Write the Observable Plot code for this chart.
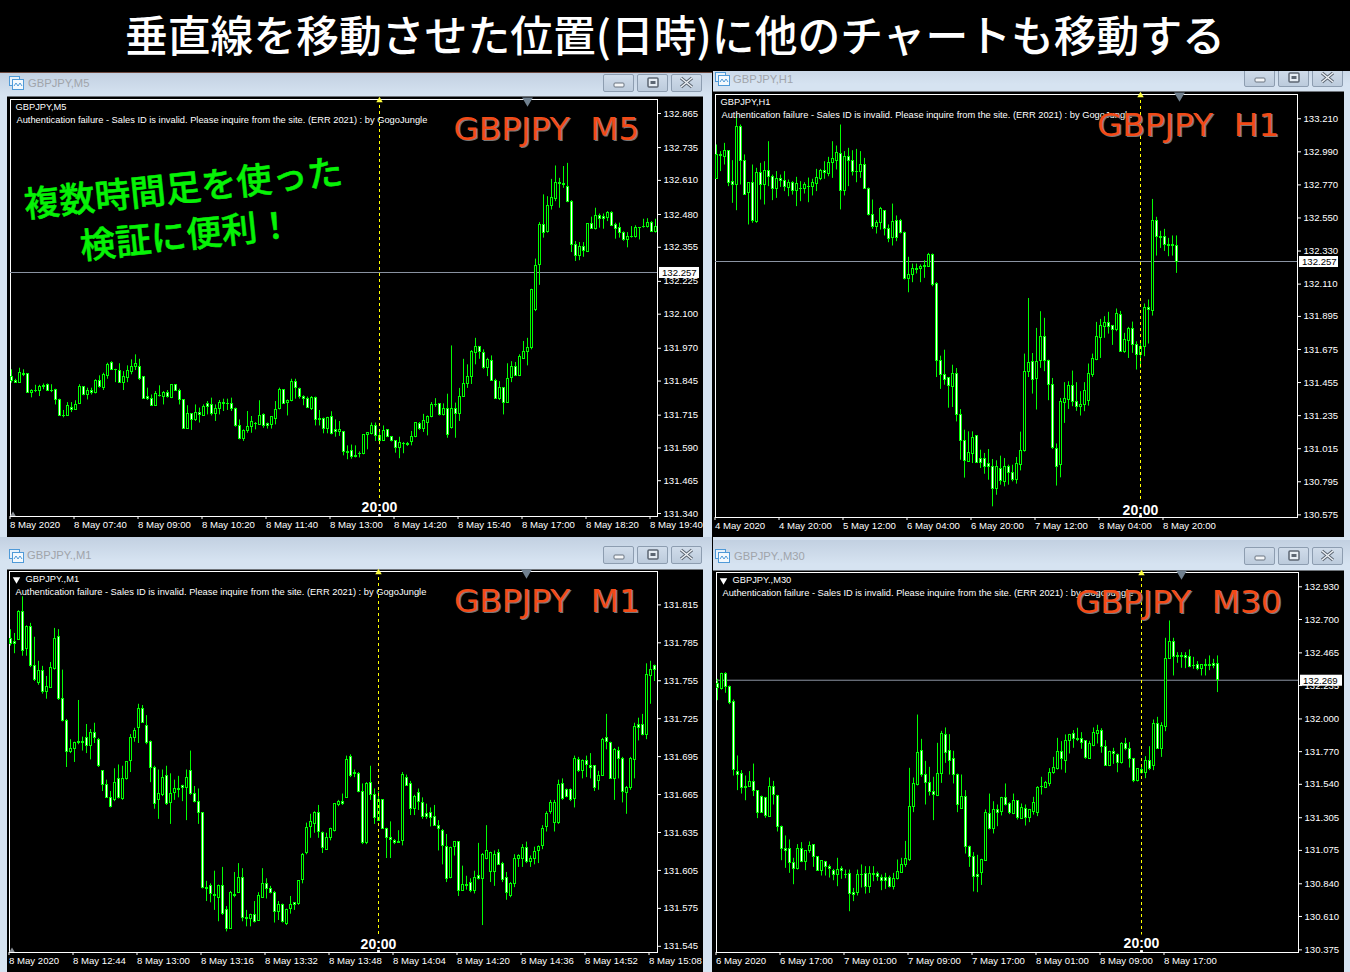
<!DOCTYPE html>
<html lang="ja"><head><meta charset="utf-8">
<style>
html,body{margin:0;padding:0;background:#000;overflow:hidden}
#page{position:absolute;left:0;top:0;width:1350px;height:972px;background:#000;overflow:hidden}
.win{position:absolute;background:linear-gradient(#c2d0e1 0,#d6e3f1 24px,#d6e3f1 100%)}
.client{position:absolute;background:#000;border-top:1px solid #6f747a;box-sizing:border-box}
.cap{position:absolute;font:11.2px "Liberation Sans";color:#a0a4aa;line-height:14px;white-space:pre}
.icon{position:absolute;width:15px;height:14px}
.btn{position:absolute;width:31px;height:18px;box-sizing:border-box;border:1px solid #8d9db0;border-radius:2px;background:linear-gradient(#d0dcea,#bccbdc)}
.btn svg{position:absolute;left:0;top:0}
#title{position:absolute;left:0;top:0;width:1350px;height:71px;background:#000;color:#fff;text-align:center;font:500 42.8px/67px "Noto Sans CJK JP";white-space:pre}
</style>
<script src="https://cdn.jsdelivr.net/npm/d3@7"></script>
<script src="https://cdn.jsdelivr.net/npm/@observablehq/plot@0.6"></script>
</head><body><div id="page"></div>
<script>
// [open, high, low, close]
const m5Candles = [
[131.860,131.886,131.835,131.845],[131.845,131.850,131.837,131.837],[131.837,131.892,131.837,131.873],[131.869,131.886,131.860,131.867],
[131.869,131.869,131.797,131.799],[131.799,131.810,131.779,131.807],[131.807,131.827,131.799,131.804],[131.807,131.827,131.784,131.822],
[131.826,131.832,131.810,131.820],[131.827,131.832,131.803,131.807],[131.807,131.829,131.799,131.805],[131.810,131.812,131.752,131.769],
[131.771,131.774,131.708,131.710],[131.710,131.731,131.703,131.708],[131.710,131.761,131.708,131.749],[131.742,131.761,131.723,131.731],
[131.731,131.768,131.731,131.751],[131.754,131.829,131.754,131.820],[131.820,131.822,131.787,131.789],[131.789,131.816,131.771,131.804],
[131.804,131.816,131.790,131.797],[131.797,131.848,131.794,131.845],[131.843,131.863,131.816,131.820],[131.816,131.873,131.807,131.867],
[131.863,131.911,131.850,131.903],[131.911,131.917,131.883,131.886],[131.886,131.888,131.837,131.884],[131.883,131.909,131.837,131.837],
[131.837,131.879,131.807,131.858],[131.853,131.901,131.837,131.881],[131.879,131.924,131.867,131.896],[131.896,131.943,131.883,131.909],
[131.898,131.926,131.845,131.850],[131.858,131.860,131.774,131.776],[131.782,131.816,131.769,131.776],[131.776,131.790,131.746,131.749],
[131.749,131.803,131.746,131.793],[131.788,131.825,131.782,131.786],[131.782,131.803,131.752,131.799],[131.799,131.807,131.778,131.782],
[131.779,131.829,131.776,131.827],[131.827,131.829,131.803,131.807],[131.807,131.812,131.752,131.769],[131.769,131.771,131.660,131.662],
[131.662,131.749,131.660,131.718],[131.716,131.718,131.655,131.693],[131.693,131.752,131.689,131.723],[131.723,131.740,131.683,131.713],
[131.710,131.752,131.708,131.743],[131.756,131.765,131.714,131.743],[131.751,131.778,131.710,131.716],[131.716,131.752,131.689,131.736],
[131.736,131.769,131.714,131.759],[131.759,131.774,131.727,131.757],[131.757,131.774,131.731,131.755],[131.756,131.778,131.727,131.736],
[131.737,131.740,131.667,131.670],[131.670,131.695,131.619,131.622],[131.622,131.657,131.613,131.652],[131.652,131.727,131.644,131.667],
[131.667,131.708,131.644,131.688],[131.681,131.685,131.657,131.679],[131.677,131.768,131.675,131.710],[131.713,131.718,131.663,131.670],
[131.679,131.683,131.660,131.670],[131.675,131.705,131.660,131.705],[131.700,131.765,131.676,131.733],[131.736,131.816,131.733,131.810],
[131.810,131.810,131.754,131.756],[131.759,131.771,131.710,131.768],[131.766,131.850,131.764,131.840],[131.841,131.850,131.774,131.815],
[131.812,131.816,131.774,131.782],[131.782,131.787,131.749,131.774],[131.774,131.782,131.738,131.742],[131.738,131.784,131.731,131.779],
[131.779,131.782,131.672,131.693],[131.698,131.731,131.672,131.693],[131.698,131.702,131.642,131.662],[131.662,131.705,131.642,131.703],
[131.705,131.726,131.638,131.642],[131.655,131.695,131.629,131.647],[131.647,131.689,131.632,131.657],[131.647,131.651,131.558,131.571],
[131.571,131.596,131.543,131.569],[131.575,131.599,131.545,131.553],[131.553,131.596,131.550,131.559],[131.566,131.573,131.550,131.564],
[131.564,131.638,131.562,131.638],[131.636,131.644,131.581,131.644],[131.641,131.683,131.638,131.672],[131.672,131.683,131.613,131.632],
[131.632,131.657,131.600,131.616],[131.614,131.672,131.613,131.651],[131.655,131.657,131.627,131.629],[131.629,131.632,131.611,131.614],
[131.613,131.615,131.568,131.586],[131.586,131.629,131.547,131.606],[131.605,131.609,131.566,131.603],[131.605,131.609,131.594,131.600],
[131.609,131.651,131.596,131.629],[131.629,131.683,131.627,131.683],[131.679,131.685,131.655,131.660],[131.662,131.716,131.647,131.689],
[131.685,131.710,131.634,131.705],[131.705,131.761,131.703,131.752],[131.752,131.776,131.743,131.750],[131.755,131.756,131.710,131.713],
[131.713,131.756,131.710,131.736],[131.736,131.793,131.625,131.638],[131.663,131.977,131.660,131.736],[131.736,131.759,131.625,131.716],
[131.716,131.815,131.689,131.784],[131.784,131.926,131.784,131.832],[131.832,131.905,131.815,131.858],[131.860,131.959,131.830,131.952],
[131.949,132.006,131.905,131.972],[131.972,131.975,131.926,131.952],[131.949,131.962,131.888,131.891],[131.893,131.930,131.860,131.924],
[131.920,131.939,131.843,131.845],[131.845,131.850,131.774,131.776],[131.774,131.841,131.769,131.816],[131.816,131.818,131.714,131.761],
[131.761,131.909,131.759,131.850],[131.853,131.917,131.837,131.896],[131.896,131.914,131.860,131.863],[131.863,131.943,131.860,131.934],
[131.929,131.994,131.926,131.952],[131.952,132.006,131.901,131.968],[131.970,132.193,131.962,132.191],[132.114,132.308,132.108,132.282],
[132.285,132.447,132.208,132.437],[132.437,132.553,132.388,132.407],[132.413,132.546,132.407,132.511],[132.511,132.612,132.495,132.540],
[132.536,132.663,132.527,132.597],[132.597,132.616,132.502,132.595],[132.595,132.661,132.578,132.591],[132.584,132.673,132.523,132.527],
[132.527,132.531,132.333,132.361],[132.361,132.375,132.299,132.318],[132.320,132.371,132.302,132.353],[132.353,132.371,132.315,132.338],
[132.337,132.442,132.333,132.441],[132.441,132.468,132.422,132.424],[132.424,132.502,132.419,132.473],[132.473,132.480,132.426,132.460],
[132.469,132.480,132.422,132.460],[132.465,132.489,132.451,132.483],[132.485,132.489,132.432,132.436],[132.437,132.445,132.384,132.424],
[132.426,132.445,132.388,132.409],[132.409,132.412,132.376,132.379],[132.379,132.409,132.351,132.394],[132.394,132.432,132.388,132.392],
[132.391,132.435,132.388,132.428],[132.428,132.428,132.381,132.426],[132.432,132.460,132.426,132.430],[132.432,132.462,132.426,132.445],
[132.445,132.451,132.410,132.413],[132.413,132.460,132.407,132.429]];
const h1Candles = [
[132.808,133.032,132.808,132.963],[132.963,132.988,132.855,132.959],[132.954,133.043,132.899,132.990],[132.990,132.994,132.755,132.781],
[132.788,132.928,132.644,132.768],[132.764,133.232,132.595,133.150],[133.150,133.165,132.766,132.928],[132.928,132.966,132.697,132.702],
[132.710,132.781,132.500,132.777],[132.777,132.899,132.511,132.529],[132.520,132.877,132.511,132.844],[132.844,132.910,132.666,132.764],
[132.764,132.921,132.633,132.857],[132.857,133.054,132.755,132.817],[132.817,132.832,132.662,132.741],[132.741,132.855,132.677,132.804],
[132.804,132.832,132.750,132.790],[132.795,132.855,132.722,132.750],[132.746,132.799,132.688,132.781],[132.781,132.788,132.699,132.724],
[132.724,132.817,132.622,132.773],[132.741,132.788,132.655,132.738],[132.737,132.781,132.706,132.764],[132.755,132.812,132.648,132.752],
[132.755,132.804,132.693,132.777],[132.773,132.870,132.722,132.810],[132.804,132.870,132.795,132.857],[132.857,132.921,132.804,132.844],
[132.839,132.950,132.821,132.914],[132.914,133.054,132.810,132.937],[132.928,133.025,132.866,132.977],[132.970,133.165,132.600,132.728],
[132.728,132.988,132.693,132.950],[132.950,133.010,132.755,132.928],[132.928,132.994,132.826,132.852],[132.855,133.003,132.781,132.852],
[132.855,132.988,132.810,132.897],[132.897,132.943,132.737,132.741],[132.741,132.746,132.560,132.568],[132.568,132.666,132.471,132.489],
[132.489,132.529,132.440,132.511],[132.511,132.617,132.466,132.604],[132.591,132.595,132.427,132.475],[132.471,132.500,132.382,132.409],
[132.413,132.639,132.360,132.520],[132.524,132.560,132.389,132.413],[132.524,132.537,132.440,132.444],[132.449,132.453,132.134,132.138],
[132.138,132.285,132.049,132.165],[132.165,132.240,132.116,132.205],[132.205,132.240,132.174,132.203],[132.205,132.234,132.116,132.218],
[132.218,132.262,132.145,132.227],[132.222,132.311,132.218,132.302],[132.302,132.307,132.089,132.103],[132.107,132.116,131.485,131.592],
[131.592,131.627,131.406,131.503],[131.503,131.667,131.434,131.472],[131.481,131.485,131.281,131.428],[131.423,131.567,131.286,131.508],
[131.508,131.545,131.190,131.233],[131.233,131.272,130.935,131.060],[131.064,131.135,130.816,130.931],[130.922,131.124,130.922,130.980],
[130.975,131.124,130.913,131.086],[131.095,131.095,130.913,130.918],[130.946,131.002,130.880,130.918],[130.946,130.980,130.842,130.891],
[130.913,131.006,130.802,130.891],[130.887,130.940,130.625,130.745],[130.745,130.931,130.702,130.887],[130.878,130.962,130.769,130.798],
[130.793,130.946,130.758,130.891],[130.891,130.902,130.769,130.847],[130.847,130.902,130.791,130.802],[130.802,130.953,130.776,130.907],
[130.904,131.122,130.864,130.997],[130.997,131.641,130.989,131.525],[131.525,132.011,131.485,131.583],[131.587,131.645,131.375,131.472],
[131.477,131.812,131.269,131.590],[131.597,131.923,131.546,131.752],[131.757,131.879,131.524,131.597],[131.597,131.601,131.331,131.437],
[131.437,131.479,131.007,131.014],[131.007,131.043,130.763,130.892],[130.901,131.346,130.818,131.322],[131.313,131.451,131.180,131.340],
[131.335,131.457,131.273,131.428],[131.428,131.528,131.291,131.322],[131.322,131.451,131.260,131.286],[131.286,131.391,131.229,131.302],
[131.300,131.451,131.258,131.393],[131.331,131.575,131.295,131.506],[131.499,131.641,131.486,131.606],[131.601,131.852,131.597,131.752],
[131.748,131.872,131.612,131.828],[131.823,131.890,131.746,131.845],[131.845,131.919,131.774,131.823],[131.828,131.832,131.699,131.801],
[131.801,131.941,131.790,131.905],[131.899,131.925,131.655,131.657],[131.655,131.779,131.646,131.735],[131.730,131.819,131.612,131.808],
[131.808,131.854,131.646,131.699],[131.703,131.723,131.535,131.632],[131.632,131.723,131.546,131.686],[131.686,131.974,131.624,131.945],
[131.945,132.001,131.708,131.932],[131.930,132.670,131.894,132.524],[132.524,132.551,132.293,132.422],[132.422,132.458,132.344,132.415],
[132.418,132.471,132.324,132.364],[132.364,132.411,132.289,132.362],[132.362,132.427,132.293,132.364],[132.360,132.427,132.178,132.257]];
const m1Candles = [
[131.788,131.795,131.782,131.784],[131.785,131.792,131.776,131.784],[131.787,131.810,131.787,131.809],[131.809,131.821,131.774,131.778],
[131.780,131.798,131.774,131.797],[131.797,131.800,131.765,131.766],[131.766,131.789,131.754,131.755],[131.753,131.770,131.751,131.762],
[131.762,131.766,131.744,131.746],[131.746,131.758,131.740,131.750],[131.749,131.769,131.749,131.765],[131.764,131.796,131.763,131.788],
[131.789,131.795,131.739,131.740],[131.740,131.763,131.722,131.723],[131.723,131.724,131.686,131.698],[131.698,131.708,131.697,131.701],
[131.701,131.706,131.690,131.705],[131.706,131.739,131.704,131.705],[131.706,131.710,131.699,131.705],[131.709,131.720,131.697,131.703],
[131.703,131.716,131.692,131.713],[131.713,131.721,131.705,131.709],[131.708,131.709,131.686,131.687],[131.683,131.683,131.667,131.672],
[131.672,131.676,131.662,131.662],[131.662,131.667,131.654,131.655],[131.660,131.685,131.659,131.674],[131.677,131.688,131.661,131.662],
[131.661,131.687,131.660,131.677],[131.677,131.690,131.676,131.690],[131.691,131.712,131.682,131.709],[131.709,131.717,131.706,131.715],
[131.717,131.736,131.705,131.732],[131.732,131.735,131.721,131.721],[131.719,131.727,131.704,131.705],[131.706,131.707,131.674,131.686],
[131.686,131.687,131.653,131.657],[131.660,131.684,131.645,131.665],[131.664,131.684,131.663,131.678],[131.679,131.687,131.656,131.657],
[131.658,131.681,131.641,131.665],[131.666,131.676,131.660,131.669],[131.669,131.679,131.662,131.668],[131.671,131.672,131.659,131.670],
[131.670,131.684,131.644,131.678],[131.683,131.699,131.664,131.665],[131.665,131.671,131.658,131.659],[131.659,131.669,131.641,131.650],
[131.650,131.650,131.590,131.591],[131.591,131.596,131.580,131.590],[131.592,131.594,131.579,131.586],[131.585,131.604,131.573,131.584],
[131.583,131.593,131.564,131.592],[131.592,131.607,131.569,131.570],[131.573,131.576,131.556,131.558],[131.558,131.588,131.558,131.587],
[131.585,131.603,131.583,131.584],[131.587,131.610,131.587,131.599],[131.599,131.606,131.564,131.567],[131.567,131.573,131.560,131.566],
[131.566,131.570,131.560,131.569],[131.569,131.580,131.563,131.564],[131.565,131.587,131.565,131.584],[131.583,131.606,131.583,131.594],
[131.594,131.598,131.582,131.590],[131.590,131.592,131.586,131.587],[131.587,131.588,131.563,131.572],[131.572,131.580,131.565,131.577],
[131.577,131.578,131.563,131.564],[131.562,131.574,131.561,131.573],[131.574,131.584,131.570,131.577],[131.579,131.579,131.573,131.577],
[131.578,131.596,131.577,131.596],[131.597,131.618,131.594,131.617],[131.618,131.642,131.617,131.638],[131.639,131.649,131.630,131.643],
[131.641,131.651,131.634,131.650],[131.650,131.656,131.630,131.635],[131.634,131.635,131.618,131.622],[131.621,131.634,131.621,131.630],
[131.630,131.638,131.628,131.637],[131.636,131.657,131.635,131.657],[131.656,131.660,131.655,131.659],[131.659,131.665,131.656,131.657],
[131.662,131.695,131.662,131.692],[131.694,131.696,131.678,131.679],[131.682,131.684,131.678,131.681],[131.681,131.682,131.666,131.667],
[131.667,131.673,131.625,131.626],[131.626,131.674,131.625,131.673],[131.674,131.687,131.660,131.664],[131.664,131.669,131.641,131.646],
[131.644,131.667,131.644,131.660],[131.660,131.660,131.637,131.637],[131.637,131.638,131.614,131.630],[131.630,131.643,131.614,131.629],
[131.628,131.629,131.625,131.626],[131.627,131.636,131.626,131.626],[131.628,131.682,131.624,131.680],[131.678,131.680,131.671,131.671],
[131.673,131.675,131.648,131.653],[131.653,131.664,131.648,131.663],[131.666,131.669,131.652,131.659],[131.658,131.662,131.645,131.647],
[131.649,131.657,131.645,131.647],[131.650,131.654,131.639,131.646],[131.647,131.656,131.640,131.640],[131.640,131.644,131.620,131.637],
[131.636,131.637,131.609,131.624],[131.623,131.633,131.595,131.598],[131.599,131.623,131.598,131.622],[131.623,131.627,131.616,131.627],
[131.627,131.627,131.584,131.588],[131.588,131.608,131.588,131.593],[131.593,131.600,131.589,131.592],[131.595,131.598,131.587,131.588],
[131.588,131.604,131.586,131.599],[131.600,131.626,131.597,131.598],[131.598,131.618,131.561,131.617],[131.614,131.640,131.613,131.620],
[131.603,131.619,131.595,131.618],[131.603,131.620,131.592,131.617],[131.618,131.621,131.609,131.609],[131.610,131.611,131.595,131.597],
[131.599,131.603,131.581,131.587],[131.584,131.595,131.583,131.594],[131.594,131.617,131.591,131.614],[131.614,131.617,131.607,131.616],
[131.614,131.625,131.607,131.622],[131.622,131.627,131.610,131.611],[131.611,131.616,131.607,131.614],[131.614,131.623,131.609,131.619],
[131.620,131.624,131.610,131.623],[131.624,131.640,131.621,131.637],[131.639,131.651,131.635,131.649],[131.651,131.660,131.649,131.658],
[131.642,131.660,131.635,131.658],[131.642,131.676,131.641,131.672],[131.673,131.677,131.660,131.661],[131.668,131.669,131.662,131.663],
[131.668,131.669,131.659,131.660],[131.661,131.695,131.654,131.693],[131.692,131.694,131.682,131.683],[131.683,131.692,131.677,131.691],
[131.691,131.695,131.678,131.688],[131.687,131.697,131.677,131.686],[131.687,131.687,131.667,131.670],[131.675,131.683,131.668,131.679],
[131.679,131.709,131.679,131.708],[131.709,131.728,131.700,131.706],[131.705,131.706,131.677,131.677],[131.677,131.701,131.660,131.700],
[131.699,131.702,131.677,131.693],[131.693,131.694,131.658,131.667],[131.666,131.671,131.649,131.670],[131.670,131.694,131.668,131.693],
[131.692,131.721,131.677,131.718],[131.720,131.725,131.707,131.717],[131.720,131.728,131.711,131.712],[131.712,131.768,131.708,131.759],
[131.758,131.770,131.736,131.763],[131.766,131.767,131.754,131.763]];
const m30Candles = [
[132.243,132.275,132.125,132.214],[132.205,132.318,132.200,132.313],[132.313,132.322,132.177,132.219],[132.219,132.228,132.097,132.111],
[132.116,132.130,131.595,131.637],[131.626,131.736,131.492,131.600],[131.607,131.633,131.468,131.508],[131.515,131.595,131.421,131.510],
[131.520,131.626,131.515,131.550],[131.555,131.679,131.450,131.487],[131.487,131.492,131.295,131.337],[131.445,131.454,131.332,131.337],
[131.438,131.445,131.297,131.314],[131.309,131.581,131.304,131.515],[131.515,131.557,131.391,131.459],[131.454,131.459,131.201,131.238],
[131.238,131.243,130.999,131.079],[131.084,131.173,130.945,131.070],[131.079,131.145,130.910,130.980],[130.980,131.016,130.830,130.943],
[130.938,131.112,130.933,131.079],[131.079,131.126,130.985,130.992],[130.992,131.070,130.929,131.065],[131.065,131.131,131.051,131.102],
[131.107,131.112,130.952,131.023],[131.023,131.027,130.924,130.929],[130.929,130.999,130.891,130.994],[130.990,130.994,130.891,130.957],
[130.957,130.969,130.877,130.943],[130.929,130.938,130.858,130.896],[130.896,131.016,130.816,130.933],[130.938,130.957,130.868,130.924],
[130.901,130.933,130.872,130.898],[130.903,130.933,130.640,130.762],[130.769,130.804,130.711,130.760],[130.769,130.933,130.751,130.896],
[130.901,130.969,130.807,130.898],[130.903,130.957,130.764,130.811],[130.811,130.957,130.769,130.903],[130.903,130.957,130.851,130.900],
[130.903,130.919,130.854,130.882],[130.875,130.898,130.788,130.858],[130.875,130.910,130.797,130.858],[130.875,130.891,130.807,130.816],
[130.816,130.910,130.793,130.872],[130.868,131.004,130.863,130.919],[130.915,131.016,130.910,130.966],[130.966,131.135,130.952,131.009],
[131.004,131.649,130.994,131.375],[131.375,131.581,131.337,131.539],[131.534,132.024,131.525,131.755],[131.769,131.853,131.586,131.600],
[131.600,131.698,131.391,131.548],[131.548,131.656,131.454,131.485],[131.485,131.586,131.281,131.459],[131.454,131.825,131.450,131.609],
[131.609,131.909,131.543,131.891],[131.881,131.933,131.684,131.759],[131.769,131.886,131.602,131.698],[131.712,131.769,131.539,131.604],
[131.604,131.609,131.337,131.389],[131.365,131.602,131.360,131.450],[131.450,131.492,131.046,131.098],[131.098,131.102,130.952,131.023],
[131.023,131.056,130.779,130.882],[130.901,131.037,130.774,130.882],[130.910,131.009,130.825,131.004],[130.999,131.356,130.994,131.332],
[131.328,131.468,131.215,131.220],[131.220,131.414,131.187,131.356],[131.356,131.391,131.238,131.337],[131.344,131.445,131.314,131.438],
[131.438,131.539,131.384,131.393],[131.398,131.407,131.323,131.332],[131.328,131.468,131.323,131.417],[131.417,131.421,131.285,131.297],
[131.295,131.398,131.290,131.370],[131.360,131.391,131.243,131.299],[131.299,131.360,131.267,131.356],[131.342,131.445,131.320,131.403],
[131.337,131.520,131.309,131.508],[131.518,131.586,131.461,131.520],[131.511,131.557,131.506,131.543],[131.539,131.647,131.520,131.614],
[131.614,131.726,131.607,131.649],[131.647,131.860,131.637,131.762],[131.762,131.837,131.637,131.712],[131.703,131.884,131.614,131.839],
[131.839,131.888,131.750,131.881],[131.888,131.914,131.790,131.858],[131.853,131.931,131.837,131.851],[131.853,131.900,131.783,131.830],
[131.839,131.844,131.712,131.722],[131.717,131.839,131.712,131.820],[131.806,131.933,131.801,131.895],[131.891,131.952,131.820,131.914],
[131.909,131.928,131.755,131.797],[131.797,131.844,131.663,131.668],[131.665,131.769,131.661,131.764],[131.762,131.790,131.677,131.750],
[131.745,131.750,131.618,131.689],[131.689,131.830,131.679,131.820],[131.820,131.860,131.773,131.783],[131.783,131.830,131.651,131.712],
[131.712,131.719,131.548,131.562],[131.562,131.647,131.553,131.642],[131.640,131.672,131.609,131.614],[131.614,131.731,131.576,131.698],
[131.698,131.801,131.633,131.647],[131.665,131.989,131.633,131.961],[131.961,132.008,131.783,131.787],[131.787,131.970,131.726,131.947],
[131.938,132.564,131.907,132.416],[132.421,132.686,132.416,132.536],[132.536,132.564,132.299,132.435],[132.437,132.463,132.388,132.435],
[132.437,132.463,132.353,132.435],[132.437,132.463,132.350,132.428],[132.433,132.482,132.357,132.364],[132.369,132.430,132.346,132.367],
[132.374,132.400,132.336,132.350],[132.350,132.379,132.299,132.374],[132.374,132.416,132.299,132.372],[132.374,132.440,132.336,132.372],
[132.381,132.416,132.350,132.372],[132.381,132.440,132.182,132.269]];

const m5YTicks = [132.865,132.735,132.610,132.480,132.355,132.225,132.100,131.970,131.845,131.715,131.590,131.465,131.340];
const h1YTicks = [133.210,132.990,132.770,132.550,132.330,132.110,131.895,131.675,131.455,131.235,131.015,130.795,130.575];
const m1YTicks = [131.815,131.785,131.755,131.725,131.695,131.665,131.635,131.605,131.575,131.545];
const m30YTicks = [132.930,132.700,132.465,132.235,132.000,131.770,131.540,131.305,131.075,130.840,130.610,130.375];

const m5XLabels = ["8 May 2020","8 May 07:40","8 May 09:00","8 May 10:20","8 May 11:40","8 May 13:00","8 May 14:20","8 May 15:40","8 May 17:00","8 May 18:20","8 May 19:40"];
const h1XLabels = ["4 May 2020","4 May 20:00","5 May 12:00","6 May 04:00","6 May 20:00","7 May 12:00","8 May 04:00","8 May 20:00"];
const m1XLabels = ["8 May 2020","8 May 12:44","8 May 13:00","8 May 13:16","8 May 13:32","8 May 13:48","8 May 14:04","8 May 14:20","8 May 14:36","8 May 14:52","8 May 15:08"];
const m30XLabels = ["6 May 2020","6 May 17:00","7 May 01:00","7 May 09:00","7 May 17:00","8 May 01:00","8 May 09:00","8 May 17:00"];

const authText = "Authentication failure - Sales ID is invalid. Please inquire from the site. (ERR 2021) : by GogoJungle";
const headline = "垂直線を移動させた位置(日時)に他のチャートも移動する";
const noteLines = ["複数時間足を使った","検証に便利！"];

const GREEN = "#00ff00", FONT = "Liberation Sans", TICK_SIZE = 9.6;
const page = document.getElementById("page");

function el(cls, css, text, parent = page) {
  const d = document.createElement("div");
  if (cls) d.className = cls;
  d.style.cssText = css;
  if (text) d.textContent = text;
  parent.appendChild(d);
  return d;
}
const glyphs = {
  min: '<svg width="29" height="16"><rect x="10" y="8" width="10" height="4" rx="1" fill="#f4f6f8" stroke="#6a7480"/></svg>',
  max: '<svg width="29" height="16"><rect x="10" y="3" width="10" height="9" rx="1" fill="#e6edf4" stroke="#5c6672" stroke-width="1.5"/><rect x="12.5" y="6" width="5" height="3" fill="#5c6672"/></svg>',
  close: '<svg width="29" height="16"><path d="M9 3L20 12M20 3L9 12" stroke="#5c6672" stroke-width="3.4"/><path d="M9 3L20 12M20 3L9 12" stroke="#eef2f6" stroke-width="1.4"/></svg>'
};
const iconSvg = '<svg width="15" height="14"><rect x="0.5" y="0.5" width="10" height="9" fill="#e8f2fb" stroke="#4f9ad8"/><rect x="3.5" y="3.5" width="11" height="10" fill="#f4f9fd" stroke="#4f9ad8"/><path d="M5 10l2-3 2 3 2-3 2 3" fill="none" stroke="#4f9ad8"/></svg>';
function chrome(w) {
  el("win", `left:${w.x}px;top:${w.y}px;width:${w.w}px;height:${w.h}px`);
  el("client", `left:${w.cx}px;top:${w.cy}px;width:${w.cw}px;height:${w.ch}px`);
  el("icon", `left:${w.ix}px;top:${w.iy}px`).innerHTML = iconSvg;
  el("cap", `left:${w.tx}px;top:${w.ty}px`, w.caption);
  [["min",0],["max",34],["close",68]].forEach(([g,dx]) => {
    el("btn", `left:${w.bx+dx}px;top:${w.by}px`).innerHTML = glyphs[g];
  });
}
chrome({x:0,y:72,w:712,h:465,cx:7,cy:96,cw:696,ch:441,ix:9,iy:76,tx:28,ty:76,caption:"GBPJPY,M5",bx:603,by:74});
chrome({x:713,y:60,w:637,h:480,cx:713,cy:91,cw:631,ch:446,ix:715,iy:72,tx:733,ty:72,caption:"GBPJPY,H1",bx:1244,by:69});
chrome({x:0,y:537,w:712,h:435,cx:7,cy:569,cw:696,ch:403,ix:9,iy:549,tx:27,ty:548,caption:"GBPJPY.,M1",bx:603,by:546});
chrome({x:713,y:540,w:637,h:432,cx:713,cy:570,cw:631,ch:402,ix:715,iy:549,tx:734,ty:549,caption:"GBPJPY.,M30",bx:1244,by:547});

function candleChart(p) {
  const rows = p.candles;
  const ix = (d) => rows.indexOf(d);
  const up = (d) => d[3] >= d[0];
  const bar = 0.25;
  const textStyle = {fontFamily: FONT, fontSize: 9.3, fill: "#fff", frameAnchor: "top-left", lineAnchor: "middle", textAnchor: "start"};
  const marks = [
    Plot.frame({stroke: "#fff"}),
    p.current != null ? Plot.ruleY([p.current], {stroke: "#8b94a3"}) : null,
    Plot.ruleX(rows, {x: ix, y1: (d) => d[2], y2: (d) => d[1], stroke: GREEN, clip: true}),
    Plot.rect(rows, {filter: up, x1: (d) => ix(d) - bar, x2: (d) => ix(d) + bar, y1: (d) => d[0], y2: (d) => d[3], fill: "#000", stroke: GREEN, shapeRendering: "crispEdges", clip: true}),
    Plot.rect(rows, {filter: (d) => !up(d), x1: (d) => ix(d) - bar, x2: (d) => ix(d) + bar, y1: (d) => d[0], y2: (d) => d[3], fill: "#fff", stroke: GREEN, shapeRendering: "crispEdges", clip: true}),
    Plot.ruleX([p.crossBar], {y1: p.yDomain[1], y2: p.crossEnd, stroke: "#ffff00", strokeDasharray: "3,3"}),
    Plot.dot([p.crossBar], {x: (d) => d, frameAnchor: "top", symbol: "triangle", r: 2.4, fill: "#ffff40", dy: 1}),
    Plot.dot([p.crossBar], {x: (d) => d, frameAnchor: "bottom", symbol: "square", r: 1.6, fill: "#fff", dy: -1}),
    Plot.dot([p.shiftBar], {x: (d) => d, frameAnchor: "top", symbol: "triangle", r: 4, rotate: 180, fill: "#70808f", dy: 1}),
    p.cornerMark ? Plot.dot([0], {frameAnchor: "bottom-left", symbol: "triangle", r: 2, fill: "#8a8f96", dx: 2.5, dy: -2}) : null,
    Plot.text([p.crossText], {x: p.crossBar, y: p.crossEnd, text: (d) => d, lineAnchor: "top", dy: 3, fill: "#fff", fontFamily: FONT, fontWeight: "bold", fontSize: 14}),
    Plot.axisY({anchor: "right", ticks: p.yTicks, tickFormat: d3.format(".3f"), tickSize: 3, tickPadding: 3, label: null, fontSize: TICK_SIZE, fontFamily: FONT, dy: 0.5}),
    Plot.axisX({ticks: p.xLabels.map((_, k) => k * 16), tickFormat: (v) => p.xLabels[v / 16], tickSize: 3, tickPadding: 2, textAnchor: "start", dx: -1.5, label: null, fontSize: TICK_SIZE, fontFamily: FONT}),
    p.nameTriangle ? Plot.dot([0], {frameAnchor: "top-left", symbol: "triangle", rotate: 180, r: 2.8, fill: "#fff", dx: 7, dy: 8}) : null,
    Plot.text([p.name], {...textStyle, text: (d) => d, dx: p.nameDx, dy: 8}),
    Plot.text([authText], {...textStyle, text: (d) => d, dx: 6, dy: 21}),
    Plot.text([p.badge], {text: (d) => d, frameAnchor: "top-left", lineAnchor: "middle", textAnchor: "start", dx: p.badgeDx + 1.5, dy: p.badgeDy + 1.5, fill: "#777", fontFamily: "DejaVu Sans", fontSize: 32.7}),
    Plot.text([p.badge], {text: (d) => d, frameAnchor: "top-left", lineAnchor: "middle", textAnchor: "start", dx: p.badgeDx, dy: p.badgeDy, fill: "#f24a16", fontFamily: "DejaVu Sans", fontSize: 32.7}),
    ...(p.notes || []).map((n) => Plot.text([n.text], {text: (d) => d, frameAnchor: "top-left", lineAnchor: "middle", textAnchor: "middle", dx: n.dx, dy: n.dy, rotate: -6, fill: "#06f206", stroke: "#06f206", strokeWidth: 0.5, fontFamily: "Noto Sans CJK JP", fontWeight: 500, fontSize: 35.6})),
    p.current != null ? (index, {y}, values, dims) => {
      const g = d3.create("svg:g");
      const left = dims.width - dims.marginRight + 2;
      g.append("rect").attr("x", left).attr("y", y(p.current) - 5).attr("width", p.currentWidth).attr("height", 11).attr("fill", "#fff");
      g.append("text").attr("x", left + 3).attr("y", y(p.current) + 4).attr("text-anchor", "start").attr("fill", "#000").attr("font-family", FONT).attr("font-size", TICK_SIZE).text(d3.format(".3f")(p.current));
      return g.node();
    } : null
  ];
  const chart = Plot.plot({
    width: p.width, height: p.height,
    marginLeft: p.margin[3], marginTop: p.margin[0], marginRight: p.margin[1], marginBottom: p.margin[2],
    x: {domain: p.xDomain, axis: null},
    y: {domain: p.yDomain, axis: null},
    style: {background: "transparent", color: "#fff", fontFamily: FONT, overflow: "visible"},
    marks
  });
  chart.style.position = "absolute";
  chart.style.left = p.left + "px";
  chart.style.top = p.top + "px";
  chart.style.maxWidth = "none";
  page.appendChild(chart);
}

const nbsp = "\u00a0\u00a0";
candleChart({candles: m5Candles, yTicks: m5YTicks, xLabels: m5XLabels, left: 8, top: 96, width: 695, height: 440, margin: [3,46,20,2],
  xDomain: [-0.25, 161.5], yDomain: [131.3267, 132.9165], current: 132.257, currentWidth: 40, crossBar: 92, crossEnd: 131.393, crossText: "20:00", shiftBar: 129,
  cornerMark: true, name: "GBPJPY,M5", nameDx: 5, badge: "GBPJPY" + nbsp + "M5", badgeDx: 443, badgeDy: 30,
  notes: [{text: noteLines[0], dx: 173, dy: 90}, {text: noteLines[1], dx: 176, dy: 137}]});
candleChart({candles: h1Candles, yTicks: h1YTicks, xLabels: h1XLabels, left: 713, top: 91, width: 631, height: 445, margin: [3,47,19,2],
  xDomain: [-0.25, 145.25], yDomain: [130.554, 133.368], current: 132.257, currentWidth: 39, crossBar: 106, crossEnd: 130.659, crossText: "20:00", shiftBar: 115.75,
  name: "GBPJPY,H1", nameDx: 5, badge: "GBPJPY" + nbsp + "H1", badgeDx: 381.5, badgeDy: 31});
candleChart({candles: m1Candles, yTicks: m1YTicks, xLabels: m1XLabels, left: 8, top: 569, width: 695, height: 403, margin: [2,46,20,1],
  xDomain: [-0.25, 161.75], yDomain: [131.5397, 131.8410], crossBar: 92, crossEnd: 131.553, crossText: "20:00", shiftBar: 129,
  cornerMark: true, nameTriangle: true, name: "GBPJPY.,M1", nameDx: 16, badge: "GBPJPY" + nbsp + "M1", badgeDx: 444.5, badgeDy: 30});
candleChart({candles: m30Candles, yTicks: m30YTicks, xLabels: m30XLabels, left: 713, top: 570, width: 631, height: 402, margin: [2,46,20,3],
  xDomain: [-0.25, 145.25], yDomain: [130.353, 133.027], current: 132.269, currentWidth: 42, crossBar: 106, crossEnd: 130.476, crossText: "20:00", shiftBar: 116,
  nameTriangle: true, name: "GBPJPY.,M30", nameDx: 16, badge: "GBPJPY" + nbsp + "M30", badgeDx: 358.5, badgeDy: 30});

el("", "position:absolute;left:0;top:72px;width:712px;height:1px;background:#6e4a40");
el("", "", headline).id = "title";
</script></body></html>
